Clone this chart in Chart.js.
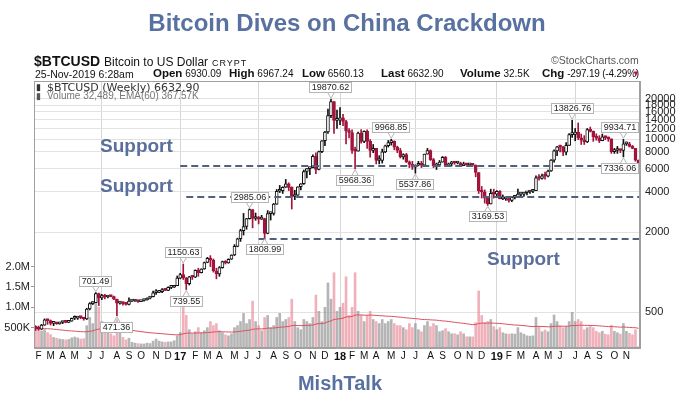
<!DOCTYPE html>
<html>
<head>
<meta charset="utf-8">
<script src="https://cdn.jsdelivr.net/npm/chart.js@4.4.0/dist/chart.umd.min.js"></script>
<style>
  body { margin: 0; background: #fff; }
  #wrap { position: relative; width: 680px; height: 405px; overflow: hidden; font-family: "Liberation Sans", Arial, sans-serif; }
  #chart { position: absolute; left: 0; top: 0; }
  .t { position: absolute; white-space: nowrap; line-height: 1; color: #111; }
  .big { font-weight: bold; color: #5871a0; }
  .sup { font-weight: bold; font-size: 19px; color: #5b6f9c; }
  .t b { font-size: 11.5px; }
  .hv { font-size: 10px; }
</style>
</head>
<body>
<div id="wrap">
  <canvas id="chart" width="680" height="405"></canvas>

  <div class="t big" style="left:0;width:694px;top:11px;text-align:center;font-size:24px">Bitcoin Dives on China Crackdown</div>

  <div class="t" style="left:34px;top:54px;font-size:14px;font-weight:bold">$BTCUSD <span style="font-weight:normal;font-size:12px">Bitcoin to US Dollar</span> <span style="font-weight:normal;font-size:9px;letter-spacing:1px">CRYPT</span></div>
  <div class="t" style="left:551px;top:55px;font-size:10.5px;color:#555">&copy;StockCharts.com</div>

  <div class="t hv" style="left:35px;top:69px;font-size:10.5px">25-Nov-2019 6:28am</div>
  <div class="t hv" style="left:153px;top:68px"><b>Open</b> 6930.09</div>
  <div class="t hv" style="left:229px;top:68px"><b>High</b> 6967.24</div>
  <div class="t hv" style="left:302px;top:68px"><b>Low</b> 6560.13</div>
  <div class="t hv" style="left:381px;top:68px"><b>Last</b> 6632.90</div>
  <div class="t hv" style="left:460px;top:68px"><b>Volume</b> 32.5K</div>
  <div class="t hv" style="left:542px;top:68px"><b>Chg</b> <span style="letter-spacing:-0.2px">-297.19 (-4.29%)</span></div>
  <div class="t" style="left:632px;top:70px;font-size:8px;color:#b0163e">&#9660;</div>

  <div class="t" style="left:36px;top:83px;font-size:9px;color:#333">&#9646;</div>
  <div class="t" style="left:47px;top:82px;font-size:11px;font-family:'DejaVu Sans';color:#333">$BTCUSD (Weekly) 6632.90</div>
  <div class="t" style="left:36px;top:92px;font-size:9px;color:#555">&#9646;</div>
  <div class="t" style="left:47px;top:91px;font-size:10px;color:#777">Volume 32,489, EMA(60) 367.57K</div>

  <div class="t sup" style="left:100px;top:136px">Support</div>
  <div class="t sup" style="left:100px;top:176px">Support</div>
  <div class="t sup" style="left:487px;top:249px">Support</div>

  <div class="t big" style="left:0;width:680px;top:373px;text-align:center;font-size:20px">MishTalk</div>
</div>

<script>
// weekly candles, first week starts Mon 25-Jan-2016
const firstWeek = '2016-01-25';

const open = [
  392,376,373,400,438,432,412,412,408,418,420,419,428,450,451,460,455,444,528,580,
  590,690,640,665,650,665,655,625,585,588,580,572,605,607,608,600,612,617,638,655,
  700,705,712,740,730,767,770,790,900,
  960,905,820,920,915,1030,990,1055,1180,1270,1230,1020,970,1080,1200,1170,1250,1345,1560,1780,
  2050,2200,2520,2950,2530,2590,2500,2520,1950,2750,2760,3240,4050,4090,4340,4600,4330,3700,3780,4380,
  4610,5700,5990,6100,7400,5900,8050,9700,11300,15000,19100,13800,
  13850,14400,13550,11500,11200,8200,8100,11100,9600,11400,9600,8200,8500,6900,6900,8000,8900,9400,9600,8700,
  8200,7350,7650,6750,6450,6150,6350,6400,6350,7700,8200,7000,6300,6400,6700,7300,6300,6500,6700,6600,
  6600,6300,6450,6400,6450,6350,5600,4100,4000,3600,3250,3900,3850,
  4050,3550,3550,3550,3450,3650,3650,3850,3850,3950,4000,4050,4100,5100,5050,5300,5250,5750,6950,8150,
  8750,8700,7950,8950,10800,10850,11300,10200,9800,9500,11800,11400,10400,10150,9700,10400,10250,10050,8050,8200,
  8300,8200,9200,9200,8800,8500,6930.09
];
const high = [
  396,393,405,445,441,437,418,420,420,425,424,430,452,469,464,463,458,535,590,600,
  701.49,695,680,680,670,670,660,628,600,595,590,640,612,612,610,612,620,642,657,720,
  740,725,752,745,775,772,795,935,980,
  1150.63,910,930,925,1040,1070,1060,1190,1290,1330,1255,1070,1100,1210,1220,1260,1350,1610,1800,2100,
  2760,2530,2985.06,2950,2780,2620,2670,2540,2900,2800,3280,4180,4480,4380,4970,4690,4380,4120,4380,4620,
  5840,6000,6150,7600,7890,8100,9740,11400,16800,19870.62,19100,16500,
  17200,15300,13800,12000,11700,8700,11300,11800,11500,11700,9900,9100,8500,7500,8400,9000,9750,9968.85,9700,8850,
  8500,7750,7800,6850,6800,6400,6800,6800,7700,8500,8300,7150,6600,6900,7400,7400,6600,6800,6800,6700,
  6700,6700,6550,6550,6550,6400,5600,4400,4150,3600,4200,4200,4100,
  4100,3800,3650,3600,3700,3700,4200,3900,3950,4000,4100,4150,5300,5400,5450,5650,5850,7000,8300,8800,
  9000,8800,9400,11000,13826.76,12000,13200,10900,10600,12000,12300,11500,10950,10600,10900,10450,10350,10050,8500,8800,
  8400,9934.71,9500,9450,8950,8500,6967.24
];
const low = [
  364,366,370,398,405,400,396,405,406,410,416,418,427,440,441,447,435,440,520,570,
  590,560,620,630,640,650,620,471.36,575,565,565,568,600,603,593,599,606,615,628,652,
  680,700,700,725,725,750,765,790,890,
  880,739.55,800,880,910,930,985,1050,1175,1100,1000,890,930,1070,1150,1165,1245,1330,1550,1700,
  1900,2100,2500,2150,2450,2300,2480,1808.99,1940,2460,2680,3230,3960,3900,4320,4100,2980,3500,3770,4150,
  4560,5100,5400,6060,5500,5850,7900,8900,11000,14500,11000,12000,
  12800,12600,9200,10200,7800,5968.36,8100,9300,9400,8500,7300,7900,6500,6500,6600,7900,8700,9000,8300,7900,
  7200,7050,6650,6100,5900,5537.86,6300,6100,6300,7700,6900,6100,5900,6200,6700,6200,6250,6250,6450,6500,
  6200,6300,6350,6250,6300,5200,3900,3600,3300,3169.53,3250,3600,3700,
  3550,3500,3450,3350,3380,3550,3650,3750,3700,3800,3900,3950,4100,4900,5000,5000,5200,5700,6700,7500,
  8000,7500,7600,8950,10300,9700,9900,9100,9100,9400,11300,9600,9800,9400,9700,9900,9600,7800,7800,7800,
  7900,7336.06,8950,8700,8450,6800,6560.13
];
const close = [
  376,373,400,438,432,412,412,408,418,420,419,428,450,451,460,455,444,528,580,590,
  690,640,665,650,665,655,625,585,588,580,572,605,607,608,600,612,617,638,655,700,
  705,712,740,730,767,770,790,900,960,
  905,820,920,915,1030,990,1055,1180,1270,1230,1020,970,1080,1200,1170,1250,1345,1560,1780,2050,
  2200,2520,2950,2530,2590,2500,2520,1950,2750,2760,3240,4050,4090,4340,4600,4330,3700,3780,4380,4610,
  5700,5990,6100,7400,5900,8050,9700,11300,15000,19100,13800,13850,
  14400,13550,11500,11200,8200,8100,11100,9600,11400,9600,8200,8500,6900,6900,8000,8900,9400,9600,8700,8200,
  7350,7650,6750,6450,6150,6350,6400,6350,7700,8200,7000,6300,6400,6700,7300,6300,6500,6700,6600,6600,
  6300,6450,6400,6450,6350,5600,4100,4000,3600,3250,3900,3850,4050,
  3550,3550,3550,3450,3650,3650,3850,3850,3950,4000,4050,4100,5100,5050,5300,5250,5750,6950,8150,8750,
  8700,7950,8950,10800,10850,11300,10200,9800,9500,11800,11400,10400,10150,9700,10400,10250,10050,8050,8200,8300,
  8200,9200,9200,8800,8500,6930.09,6632.90
];
// weekly volume, thousands
const volume = [
  500,450,420,450,380,330,260,240,220,210,200,210,250,270,250,220,230,550,750,600,
  1300,1000,650,480,400,350,300,700,380,260,200,240,140,120,110,100,100,120,110,170,
  220,170,150,140,150,150,180,300,380,
  1000,800,450,350,400,500,375,425,500,650,550,600,425,375,325,300,350,500,550,650,
  850,600,700,1150,650,550,425,750,800,500,550,750,850,650,700,750,1200,650,500,450,
  700,650,600,750,1300,900,650,1000,1600,1200,1850,900,
  1000,1100,1750,800,1000,1850,900,800,650,800,900,700,650,600,700,600,650,700,600,550,
  550,500,450,600,500,600,450,400,550,650,525,600,550,400,425,475,400,350,350,325,
  400,350,275,275,275,625,1400,800,625,650,700,525,450,
  500,375,350,340,350,340,500,375,340,300,290,300,750,525,400,440,400,600,810,650,
  540,500,525,650,875,650,700,650,450,500,540,500,410,375,410,340,325,560,410,375,
  340,600,410,360,325,450,32.5
];
const emaStart = 480;   // EMA(60) level at the left edge
const emaPeriod = 60;

const monthLetters = ['J','F','M','A','M','J','J','A','S','O','N','D'];
const priceTicks = [500,2000,4000,6000,8000,10000,12000,14000,16000,18000,20000];
const volTicks = [500,1000,1500,2000];
const volTickText = ['500K','1.0M','1.5M','2.0M'];

const supportLevels = [6300, 3690, 1775];
const supportFromWeek = [48, 50, 74];
const highCallouts = [20, 49, 71, 98, 118, 178, 195];
const lowCallouts = [27, 50, 76, 106, 126, 150, 195];

// ---------- derived ----------
const DAY = 864e5;
const t0 = Date.parse(firstWeek + 'T00:00:00Z');
const lastDay = t0 + (open.length - 1) * 7 * DAY;
const labels = [], tickText = [], tickMonth = [];
for (let i = 0; i < open.length; i++) {
  const d = new Date(t0 + i * 7 * DAY);
  const e = new Date(t0 + (i * 7 + 6) * DAY);
  labels.push(d.toISOString().slice(0, 10));
  const first = Date.UTC(e.getUTCFullYear(), e.getUTCMonth(), 1);
  if ((e.getUTCMonth() !== d.getUTCMonth() || d.getUTCDate() === 1) && first <= lastDay) {
    const m = e.getUTCMonth();
    tickMonth.push(m);
    tickText.push(m === 0 ? String(e.getUTCFullYear()).slice(2) : monthLetters[m]);
  } else {
    tickMonth.push(-1);
    tickText.push('');
  }
}

const up = close.map((c, i) => c >= open[i]);
const RED = '#a3143c';
const alpha = 2 / (emaPeriod + 1);
let prev = emaStart;
const ema = volume.map(v => (prev = prev + alpha * (v - prev)));

const overlay = {
  id: 'overlay',
  afterDatasetsDraw(chart) {
    const { ctx, chartArea, scales } = chart;
    const x = scales.x, y = scales.y;
    ctx.save();

    // support lines
    ctx.strokeStyle = '#52607a';
    ctx.lineWidth = 2;
    ctx.setLineDash([7, 4]);
    supportLevels.forEach((lvl, k) => {
      const py = Math.round(y.getPixelForValue(lvl));
      ctx.beginPath();
      ctx.moveTo(x.getPixelForValue(supportFromWeek[k]), py);
      ctx.lineTo(chartArea.right, py);
      ctx.stroke();
    });
    ctx.setLineDash([]);

    // value callouts
    ctx.font = '9px "Liberation Sans", Arial';
    ctx.textAlign = 'center';
    ctx.textBaseline = 'middle';
    const box = (i, v, isHigh) => {
      const txt = v.toFixed(2);
      const cx = x.getPixelForValue(i);
      const py = y.getPixelForValue(v);
      const w = Math.ceil(ctx.measureText(txt).width) + 5, h = 11;
      let bx = Math.round(cx - w / 2);
      if (bx + w > chartArea.right - 1) bx = chartArea.right - 1 - w;
      const by = isHigh ? Math.round(py - 6 - h) : Math.round(py + 6);
      ctx.strokeStyle = '#b5b5b5';
      ctx.lineWidth = 1;
      ctx.beginPath();
      if (isHigh) { ctx.moveTo(cx - 3, by + h); ctx.lineTo(cx, py - 1); ctx.lineTo(cx + 3, by + h); }
      else { ctx.moveTo(cx - 3, by); ctx.lineTo(cx, py + 1); ctx.lineTo(cx + 3, by); }
      ctx.stroke();
      ctx.fillStyle = '#fff';
      ctx.fillRect(bx, by, w, h);
      ctx.strokeRect(bx + 0.5, by + 0.5, w - 1, h - 1);
      ctx.fillStyle = '#222';
      ctx.fillText(txt, bx + w / 2, by + h / 2 + 0.5);
    };
    highCallouts.forEach(i => box(i, high[i], true));
    lowCallouts.forEach(i => box(i, low[i], false));

    // frame
    ctx.strokeStyle = '#a0a0a0';
    ctx.lineWidth = 1;
    ctx.strokeRect(chartArea.left + 0.5, chartArea.top + 0.5, chartArea.width - 1, chartArea.height - 1);
    ctx.restore();
  }
};

new Chart(document.getElementById('chart'), {
  data: {
    labels: labels,
    datasets: [
      {
        type: 'bar', yAxisID: 'yv', order: 4, grouped: false,
        data: volume,
        backgroundColor: up.map(u => u ? 'rgba(150,150,150,0.7)' : 'rgba(232,135,150,0.65)'),
        barThickness: 2
      },
      {
        type: 'line', yAxisID: 'yv', order: 3,
        data: ema,
        borderColor: '#d8505f', borderWidth: 1, pointRadius: 0, tension: 0
      },
      {
        type: 'bar', yAxisID: 'y', order: 2, grouped: false,
        data: low.map((l, i) => [l, high[i]]),
        backgroundColor: up.map(u => u ? '#111' : RED),
        barThickness: 1
      },
      {
        type: 'bar', yAxisID: 'y', order: 1, grouped: false,
        data: open.map((o, i) => [Math.min(o, close[i]), Math.max(o, close[i])]),
        backgroundColor: up.map(u => u ? '#fff' : RED),
        borderColor: up.map(u => u ? '#111' : RED),
        borderWidth: 1, borderSkipped: false, minBarLength: 2,
        barThickness: 3
      }
    ]
  },
  options: {
    responsive: false,
    animation: false,
    layout: { padding: { top: 81, bottom: 41, left: 0, right: 0 } },
    plugins: { legend: { display: false }, tooltip: { enabled: false } },
    scales: {
      x: {
        type: 'category',
        offset: true,
        grid: {
          offset: false, drawTicks: false,
          color: c => (tickMonth[c.index] === 0 || tickMonth[c.index] === 6) ? '#d6d6d6' : 'rgba(0,0,0,0)'
        },
        border: { color: '#a0a0a0' },
        ticks: {
          autoSkip: false, maxRotation: 0, minRotation: 0, padding: 2, color: '#111',
          font: c => ({ family: 'Liberation Sans', size: tickMonth[c.index] === 0 ? 11 : 10, weight: tickMonth[c.index] === 0 ? 'bold' : 'normal' }),
          callback: (v, i) => tickText[i]
        },
        afterFit: s => { s.height = 16; }
      },
      y: {
        type: 'logarithmic',
        position: 'right',
        min: 269, max: 27290,
        grid: { color: '#e2e2e2', drawTicks: false },
        border: { color: '#a0a0a0' },
        afterBuildTicks: a => { a.ticks = priceTicks.map(v => ({ value: v })); },
        ticks: { autoSkip: false, padding: 5, color: '#222', font: { family: 'Liberation Sans', size: 11 }, callback: v => String(v) },
        afterFit: s => { s.width = 40; }
      },
      yv: {
        type: 'linear',
        position: 'left',
        min: 0, max: 6560,
        grid: { drawOnChartArea: false, tickLength: 3, color: '#999' },
        border: { color: '#a0a0a0' },
        afterBuildTicks: a => { a.ticks = volTicks.map(v => ({ value: v })); },
        ticks: { autoSkip: false, padding: 1, color: '#222', font: { family: 'Liberation Sans', size: 11 }, callback: v => volTickText[volTicks.indexOf(v)] },
        afterFit: s => { s.width = 34; }
      }
    }
  },
  plugins: [overlay]
});
</script>
</body>
</html>
